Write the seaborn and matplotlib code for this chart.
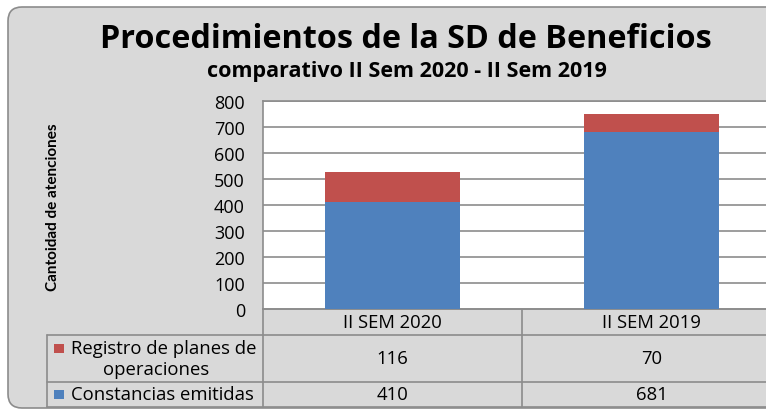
import matplotlib
matplotlib.use("Agg")
import matplotlib.pyplot as plt
import seaborn as sns
import pandas as pd
from matplotlib.patches import FancyBboxPatch, Rectangle

categories = ["II SEM 2020", "II SEM 2019"]
constancias = [410, 681]
registro = [116, 70]
series_names = ["Registro de planes de\noperaciones", "Constancias emitidas"]
yticks = [0, 100, 200, 300, 400, 500, 600, 700, 800]

title = "Procedimientos de la SD de Beneficios"
subtitle = "comparativo II Sem 2020 - II Sem 2019"
ylabel = "Cantoidad de atenciones"

BLUE = "#4F81BD"
RED = "#C0504D"
GRID = "#8c8c8c"
FONT = "Open Sans"

sns.set_theme(style="white")
plt.rcParams['font.family'] = [FONT, 'DejaVu Sans']
plt.rcParams['text.color'] = "black"
plt.rcParams['ytick.color'] = "black"

W, H = 766, 414
fig = plt.figure(figsize=(W / 100, H / 100), dpi=100)
fig.patch.set_facecolor("white")

# background overlay in pixel coords
bg = fig.add_axes([0, 0, 1, 1])
bg.set_xlim(0, W)
bg.set_ylim(H, 0)
bg.axis("off")
bg.add_patch(FancyBboxPatch((8, 8), 820, 401, boxstyle="round,pad=0,rounding_size=14",
                            facecolor="#d9d9d9", edgecolor="#8c8c8c", lw=1.2))

# plot area
x0, x1, ytop, ybot = 263, 781, 102, 310
ax = fig.add_axes([x0 / W, 1 - ybot / H, (x1 - x0) / W, (ybot - ytop) / H])
totals = [c + r for c, r in zip(constancias, registro)]
df = pd.DataFrame({"cat": categories, "total": totals, "blue": constancias})
sns.barplot(data=df, x="cat", y="total", color=RED, width=0.525, saturation=1, ax=ax, zorder=3)
sns.barplot(data=df, x="cat", y="blue", color=BLUE, width=0.525, saturation=1, ax=ax, zorder=3)
for p in ax.patches:
    p.set_edgecolor("none")
ax.set_ylim(0, 800)
ax.set_xlim(-0.5, 1.5)
ax.set_yticks(yticks)
ax.set_yticklabels([str(t) for t in yticks], fontsize=13, color="black")
ax.set_xticks([])
ax.set_xlabel("")
ax.set_ylabel("")
ax.set_facecolor("white")
ax.yaxis.grid(True, color=GRID, lw=1.2, zorder=0)
ax.set_axisbelow(True)
ax.tick_params(axis="y", length=0, pad=13)
for s in ax.spines.values():
    s.set_color(GRID)
    s.set_linewidth(1.2)

# y label
fig.text(53 / W, 1 - 207 / H, ylabel, rotation=90, ha="center", va="center",
         fontsize=11, fontweight="bold", family=["Lato", "DejaVu Sans"])

# titles
fig.text(406 / W, 1 - 40 / H, title, ha="center", va="center", fontsize=23.3, fontweight="bold")
fig.text(407 / W, 1 - 71 / H, subtitle, ha="center", va="center", fontsize=15.5, fontweight="bold")

# data table
rows_y = [310, 336, 383, 408]
col_x = [263, 522, 781]
lk = dict(color=GRID, lw=1.2)
for y in rows_y:
    xs = 263 if y == 310 else 47
    bg.plot([xs, 781], [y, y], **lk, zorder=5)
for x in col_x:
    bg.plot([x, x], [310, 408], **lk, zorder=5)
bg.plot([47, 47], [336, 408], **lk, zorder=5)

ccenters = [(col_x[i] + col_x[i + 1]) / 2 for i in range(len(categories))]
fs = 13.3
for cx, cat in zip(ccenters, categories):
    bg.text(cx, 323, cat, ha="center", va="center", fontsize=fs, zorder=6)
for cx, v in zip(ccenters, registro):
    bg.text(cx, 359, str(v), ha="center", va="center", fontsize=fs, zorder=6)
for cx, v in zip(ccenters, constancias):
    bg.text(cx, 395, str(v), ha="center", va="center", fontsize=fs, zorder=6)

# legend keys
bg.add_patch(Rectangle((54, 345), 10, 9, facecolor=RED, edgecolor="none", zorder=6))
bg.add_patch(Rectangle((54, 391), 10, 9, facecolor=BLUE, edgecolor="none", zorder=6))
lines = series_names[0].split("\n")
bg.text(164, 349, lines[0], ha="center", va="center", fontsize=fs, zorder=6)
bg.text(156, 370, lines[1], ha="center", va="center", fontsize=fs, zorder=6)
bg.text(162, 395, series_names[1], ha="center", va="center", fontsize=fs, zorder=6)

fig.savefig("out.png", dpi=100)
